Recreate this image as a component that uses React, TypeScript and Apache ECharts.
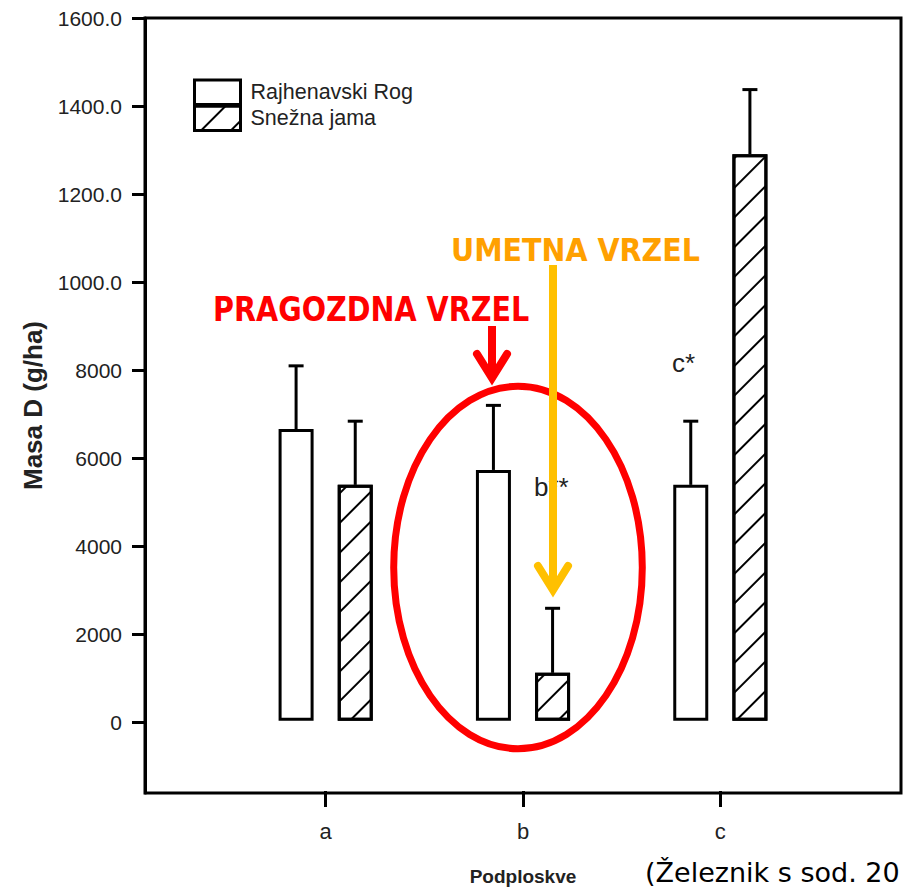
import React, { useEffect, useRef } from "react";
import * as echarts from "echarts";

const CATEGORIES = ["a", "b", "c"];
const SERIES_NAMES = ["Rajhenavski Rog", "Snežna jama"];
const RAJ_MEANS = [6640, 5710, 5370];
const RAJ_UPPER = [8080, 7180, 6820];
const SNEZ_MEANS = [5370, 1090, 12900];
const SNEZ_UPPER = [6820, 2560, 14370];
const Y_TICKS = [0, 2000, 4000, 6000, 8000, 10000, 12000, 14000, 16000];
const Y_TICK_LABELS = ["0", "2000", "4000", "6000", "8000", "1000.0", "1200.0", "1400.0", "1600.0"];
const Y_TITLE = "Masa D (g/ha)";
const X_TITLE = "Podploskve";
const SIG_B = "b**";
const SIG_C = "c*";
const NOTE_RED = "PRAGOZDNA VRZEL";
const NOTE_ORANGE = "UMETNA VRZEL";
const CITATION = "(Železnik s sod. 20";

const Y_MIN = -1600;
const Y_MAX = 16000;
const BAR_W = 35;
const BAR_GAP = 0.69;
const OFFSET = (BAR_W + BAR_W * BAR_GAP) / 2;

function errRender(offset: number) {
  return (params: any, api: any) => {
    const i = api.value(0);
    const top = api.coord([i, api.value(1)]);
    const hi = api.coord([i, api.value(2)]);
    const x = top[0] + offset;
    return {
      type: "group",
      children: [
        { type: "line", shape: { x1: x, y1: top[1], x2: x, y2: hi[1] }, style: { stroke: "#000", lineWidth: 3 } },
        { type: "line", shape: { x1: x - 7.5, y1: hi[1], x2: x + 7.5, y2: hi[1] }, style: { stroke: "#000", lineWidth: 3 } },
      ],
    };
  };
}

export default function App() {
  const ref = useRef<HTMLDivElement>(null);
  useEffect(() => {
    if (!ref.current) return;
    const chart = echarts.init(ref.current, null, { renderer: "svg" });
    const hatch = {
      symbol: "rect",
      symbolSize: 1,
      color: "#000",
      dashArrayX: [1, 0],
      dashArrayY: [2, 19],
      rotation: -Math.PI / 4,
    };
    const labelFont = "'Liberation Sans', Arial, sans-serif";
    chart.setOption({
      animation: false,
      backgroundColor: "#fff",
      grid: [
        { left: 145, right: 6, top: 18, bottom: 98, show: true, borderColor: "#000", borderWidth: 3, backgroundColor: "transparent" },
        { left: 227, right: 88, top: 18, bottom: 98 },
      ],
      legend: {
        data: SERIES_NAMES,
        orient: "vertical",
        left: 193,
        top: 78.5,
        padding: 0,
        itemWidth: 46,
        itemHeight: 24.5,
        itemGap: -1.5,
        icon: "rect",
        itemStyle: { borderColor: "#000", borderWidth: 3 },
        textStyle: { fontSize: 21.5, lineHeight: 24, color: "#222", fontFamily: labelFont, padding: [0, 0, 0, 5] },
      },
      xAxis: [
        { gridIndex: 0, type: "value", min: 0, max: 1, show: false },
        {
          gridIndex: 1,
          type: "category",
          data: CATEGORIES,
          axisLine: { show: false, onZero: false },
          axisTick: { show: true, alignWithLabel: true, length: 16, lineStyle: { color: "#000", width: 3 } },
          axisLabel: { margin: 29, fontSize: 22, color: "#222", fontFamily: labelFont },
          name: X_TITLE,
          nameLocation: "middle",
          nameGap: 76,
          nameTextStyle: { fontSize: 19, fontWeight: "bold", color: "#222", fontFamily: labelFont },
        },
      ],
      yAxis: [
        {
          gridIndex: 0,
          type: "value",
          min: Y_MIN,
          max: Y_MAX,
          splitLine: { show: false },
          axisLine: { show: true, lineStyle: { color: "#000", width: 3 } },
          axisTick: { show: true, length: 13, lineStyle: { color: "#000", width: 3 }, customValues: Y_TICKS },
          axisLabel: {
            margin: 23,
            fontSize: 21,
            color: "#222",
            fontFamily: labelFont,
            customValues: Y_TICKS,
            formatter: (v: number) => {
              const k = Y_TICKS.indexOf(v);
              return k >= 0 ? Y_TICK_LABELS[k] : "";
            },
          },
          name: Y_TITLE,
          nameLocation: "middle",
          nameRotate: 90,
          nameGap: 99,
          nameTextStyle: { fontSize: 26, fontWeight: "bold", color: "#222", fontFamily: labelFont },
        },
        { gridIndex: 1, type: "value", min: Y_MIN, max: Y_MAX, show: false, splitLine: { show: false } },
      ],
      series: [
        {
          name: SERIES_NAMES[0],
          type: "bar",
          xAxisIndex: 1,
          yAxisIndex: 1,
          data: RAJ_MEANS,
          barWidth: BAR_W,
          barGap: BAR_GAP * 100 + "%",
          itemStyle: { color: "#fff", borderColor: "#000", borderWidth: 3 },
        },
        {
          name: SERIES_NAMES[1],
          type: "bar",
          xAxisIndex: 1,
          yAxisIndex: 1,
          data: SNEZ_MEANS,
          barWidth: BAR_W,
          barGap: BAR_GAP * 100 + "%",
          itemStyle: { color: "#fff", borderColor: "#000", borderWidth: 3, decal: hatch },
        },
        {
          name: "err1",
          type: "custom",
          xAxisIndex: 1,
          yAxisIndex: 1,
          z: 1,
          data: CATEGORIES.map((_, i) => [i, RAJ_MEANS[i], RAJ_UPPER[i]]),
          renderItem: errRender(-OFFSET),
        },
        {
          name: "err2",
          type: "custom",
          xAxisIndex: 1,
          yAxisIndex: 1,
          z: 1,
          data: CATEGORIES.map((_, i) => [i, SNEZ_MEANS[i], SNEZ_UPPER[i]]),
          renderItem: errRender(OFFSET),
        },
      ],
      graphic: [
        { type: "ellipse", shape: { cx: 518, cy: 567.5, rx: 124.3, ry: 181.2 }, style: { fill: "none", stroke: "#ff0000", lineWidth: 7 }, z: 50 },
        { type: "line", shape: { x1: 492, y1: 326, x2: 492, y2: 376 }, style: { stroke: "#ff0000", lineWidth: 8 }, z: 50 },
        { type: "polyline", shape: { points: [[477, 354], [492, 378], [507, 354]] }, style: { stroke: "#ff0000", lineWidth: 8, lineCap: "round", lineJoin: "miter", fill: "none" }, z: 50 },
        { type: "line", shape: { x1: 553, y1: 265, x2: 553, y2: 588 }, style: { stroke: "#ffc000", lineWidth: 8 }, z: 51 },
        { type: "polyline", shape: { points: [[538, 566], [553, 590], [568, 566]] }, style: { stroke: "#ffc000", lineWidth: 8, lineCap: "round", lineJoin: "miter", fill: "none" }, z: 51 },
        {
          type: "text", x: 213, y: 309, scaleX: 0.868, z: 52,
          style: { text: NOTE_RED, fontSize: 33, fontWeight: "bold", fontFamily: "'DejaVu Sans', sans-serif", fill: "#ff0000", verticalAlign: "middle", align: "left" },
        },
        {
          type: "text", x: 451, y: 249.5, scaleX: 0.892, z: 52,
          style: { text: NOTE_ORANGE, fontSize: 32, fontWeight: "bold", fontFamily: "'DejaVu Sans', sans-serif", fill: "#ffa000", verticalAlign: "middle", align: "left" },
        },
        {
          type: "text", x: 534, y: 487, z: 40,
          style: { text: SIG_B, fontSize: 26, fontFamily: labelFont, fill: "#222", verticalAlign: "middle", align: "left" },
        },
        {
          type: "text", x: 672, y: 363, z: 40,
          style: { text: SIG_C, fontSize: 26, fontFamily: labelFont, fill: "#222", verticalAlign: "middle", align: "left" },
        },
        {
          type: "text", x: 645, y: 886, z: 40,
          style: { text: CITATION, fontSize: 27, fontFamily: "'DejaVu Sans', sans-serif", fill: "#000", verticalAlign: "bottom", align: "left" },
        },
      ],
    });
    return () => chart.dispose();
  }, []);
  return (
    <div
      ref={ref}
      style={{ position: "absolute", left: 0, top: 0, width: 907, height: 891, background: "#fff" }}
    />
  );
}
